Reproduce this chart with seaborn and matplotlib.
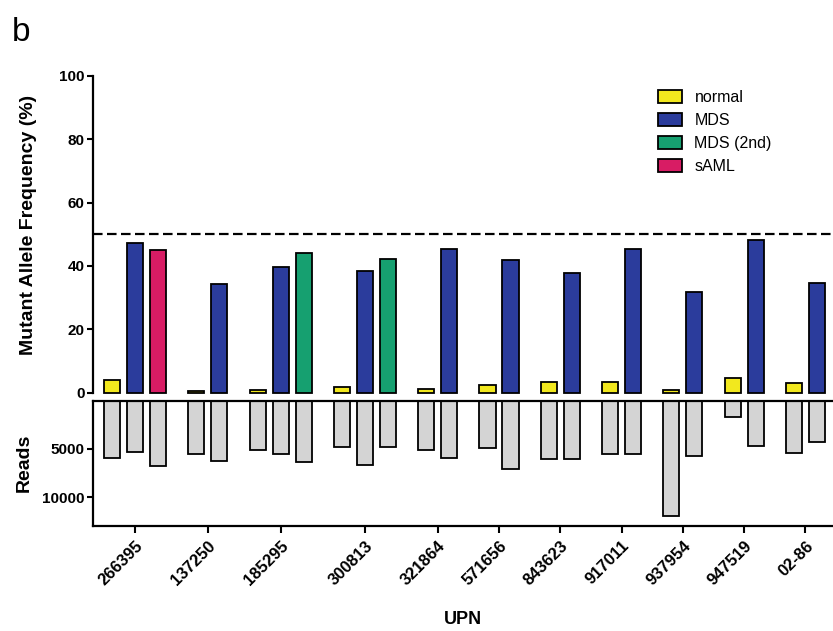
import numpy as np
import pandas as pd
import matplotlib
matplotlib.use('Agg')
import matplotlib.pyplot as plt
from matplotlib.patches import Patch
import seaborn as sns

# data
upn = ['266395', '137250', '185295', '300813', '321864', '571656',
       '843623', '917011', '937954', '947519', '02-86']
group_stages = [['normal', 'MDS', 'sAML'],
                ['normal', 'MDS'],
                ['normal', 'MDS', 'MDS (2nd)'],
                ['normal', 'MDS', 'MDS (2nd)'],
                ['normal', 'MDS'],
                ['normal', 'MDS'],
                ['normal', 'MDS'],
                ['normal', 'MDS'],
                ['normal', 'MDS'],
                ['normal', 'MDS'],
                ['normal', 'MDS']]
vaf = [[4.0, 47.3, 45.0], [0.5, 34.3], [0.8, 39.7, 44.0], [1.7, 38.5, 42.2],
       [1.1, 45.2], [2.6, 41.8], [3.5, 37.7], [3.5, 45.2], [0.8, 31.7],
       [4.7, 48.2], [3.0, 34.7]]
reads = [[5940, 5280, 6810], [5490, 6290], [5150, 5490, 6400],
         [4800, 6670, 4800], [5110, 5980], [4900, 7050], [6040, 6040],
         [5520, 5520], [11950, 5770], [1670, 4660], [5420, 4240]]

stage_order = ['normal', 'MDS', 'MDS (2nd)', 'sAML']
stage_colors = ['#f2e81e', '#2b3c9c', '#16a070', '#d81c64']
gap = 0.665

rows = []
centers = []
x = 0.0
for name, stages, v, r in zip(upn, group_stages, vaf, reads):
    xs = []
    for st, val, rd in zip(stages, v, r):
        rows.append({'upn': name, 'stage': st, 'pos': x, 'vaf': val, 'reads': rd})
        xs.append(x)
        x += 1
    centers.append(np.mean(xs))
    x += gap
df = pd.DataFrame(rows)

sns.set_style('ticks')
plt.rcParams['font.family'] = ['Liberation Sans', 'DejaVu Sans']
plt.rcParams['text.color'] = 'black'
plt.rcParams['axes.labelcolor'] = 'black'
plt.rcParams['xtick.color'] = 'black'
plt.rcParams['ytick.color'] = 'black'

fig = plt.figure(figsize=(8.33, 6.31), dpi=100)
ax_top = fig.add_axes([0.1113, 0.365, 0.8887, 0.515])
ax_bot = fig.add_axes([0.1113, 0.1669, 0.8887, 0.198])

# top panel: allele frequency
sns.barplot(data=df, x='pos', y='vaf', hue='stage', hue_order=stage_order,
            palette=stage_colors, native_scale=True, dodge=False, width=0.7,
            errorbar=None, edgecolor='black', linewidth=1.3, legend=False,
            saturation=1, ax=ax_top)
ax_top.axhline(50, color='black', lw=1.6, ls=(0, (4.3, 2.0)))
ax_top.set_ylim(-2.5, 100)
ax_top.set_yticks([0, 20, 40, 60, 80, 100])
ax_top.set_xticks([])
ax_top.set_xlabel('')
ax_top.set_ylabel('Mutant Allele Frequency (%)', fontsize=14, fontweight='bold')
ax_top.yaxis.set_label_coords(-0.075, 0.54)
for s in ['top', 'right', 'bottom']:
    ax_top.spines[s].set_visible(False)
ax_top.spines['left'].set_bounds(0, 100)

handles = [Patch(facecolor=c, edgecolor='black', linewidth=1.3, label=s)
           for s, c in zip(stage_order, stage_colors)]
ax_top.legend(handles=handles, loc='upper left',
              bbox_to_anchor=(0.780, 0.870), bbox_transform=fig.transFigure,
              frameon=False, fontsize=11.5, handlelength=1.5, handleheight=0.8,
              labelspacing=0.5, handletextpad=0.8, borderpad=0)

# bottom panel: reads
sns.barplot(data=df, x='pos', y='reads', color='#d4d4d4', native_scale=True,
            width=0.7, errorbar=None, edgecolor='black', linewidth=1.3,
            saturation=1, ax=ax_bot)
ax_bot.set_ylim(12950, 0)
ax_bot.set_yticks([5000, 10000])
ax_bot.set_ylabel('Reads', fontsize=14, fontweight='bold')
ax_bot.yaxis.set_label_coords(-0.081, 0.5)
ax_bot.set_xticks(centers)
ax_bot.set_xticklabels(upn, rotation=45, ha='right', va='top',
                       rotation_mode='anchor', fontsize=12, fontweight='bold')
ax_bot.set_xlabel('UPN', fontsize=13, fontweight='bold')
ax_bot.xaxis.set_label_coords(0.5, -0.68)
ax_bot.spines['right'].set_visible(False)

for ax in (ax_top, ax_bot):
    ax.set_xlim(-0.84, 31.35)
    for s in ax.spines.values():
        s.set_linewidth(1.6)
        s.set_color('black')
    ax.tick_params(axis='y', direction='out', length=4, width=1.5,
                   color='black', labelsize=11, pad=2)
    ax.tick_params(axis='x', direction='out', length=5, width=1.5, pad=4,
                   labelsize=12)
    for lab in ax.get_yticklabels():
        lab.set_fontweight('bold')

fig.text(0.014, 0.935, 'b', fontsize=24)

fig.savefig('out.png', dpi=100)
